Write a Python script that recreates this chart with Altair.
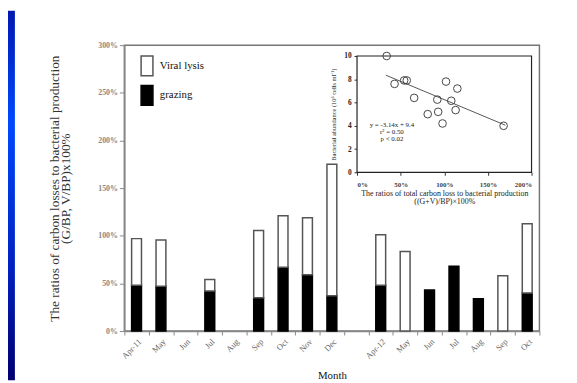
import altair as alt
import pandas as pd

# ---- main bar chart data ----
month_labels = ["Apr-11", "May", "Jun", "Jul", "Aug", "Sep", "Oct", "Nov", "Dec", "",
                "Apr-12", "May", "Jun", "Jul", "Aug", "Sep", "Oct"]
grazing = [0.48, 0.47, None, 0.42, None, 0.35, 0.67, 0.59, 0.37, None,
           0.48, None, 0.43, 0.68, 0.34, None, 0.40]
total = [0.97, 0.955, None, 0.54, None, 1.055, 1.21, 1.19, 1.75, None,
         1.01, 0.835, 0.43, 0.68, 0.34, 0.58, 1.125]

# ---- inset scatter data ----
ratio_pts = [0.34, 0.43, 0.54, 0.57, 0.655, 0.81, 0.92, 0.93, 0.98, 1.02, 1.08, 1.13, 1.15, 1.68]
abund_pts = [10.0, 7.6, 7.9, 7.9, 6.4, 5.0, 6.25, 5.2, 4.2, 7.8, 6.15, 5.35, 7.2, 4.0]
fit_x = [0.33, 1.70]
fit_y = [8.35, 4.05]
ann_text = ["y = -3.14x + 9.4", "r² = 0.50", "p < 0.02"]
ann_x = [0.40, 0.40, 0.40]
ann_y = [4.05, 3.45, 2.85]
inset_x_ticks = [0, 0.5, 1.0, 1.5, 2.0]
inset_y_ticks = [0, 2, 4, 6, 8, 10]

SERIF = "Liberation Serif"

rows = []
for i in range(len(month_labels)):
    g = grazing[i] or 0.0
    t = total[i]
    if grazing[i]:
        rows.append({"idx": i, "type": "grazing", "y0": 0.0, "y1": g})
    if t is not None and t - g > 0.001:
        rows.append({"idx": i, "type": "Viral lysis", "y0": g, "y1": t})
bars_df = pd.DataFrame(rows)

label_expr = "[" + ",".join("'%s'" % s for s in month_labels) + "][datum.value]"

xmain = alt.X("idx:O", scale=alt.Scale(domain=list(range(len(month_labels))), paddingInner=0, paddingOuter=0),
              axis=alt.Axis(title="Month", labelExpr=label_expr, labelAngle=315, tickBand="extent",
                            labelFont=SERIF, labelFontSize=8.5, labelColor="#666", labelPadding=2,
                            tickColor="#888", tickSize=4, domainColor="#888", domainWidth=1.5,
                            titleFont=SERIF, titleFontSize=11, titleFontWeight="normal",
                            titleColor="#111", titlePadding=10))
ymain = alt.Y("y0:Q", scale=alt.Scale(domain=[0, 3]),
              axis=alt.Axis(title=["The ratios of carbon losses to bacterial production", "(G/BP, V/BP)x100%"],
                            values=[0, 0.5, 1, 1.5, 2, 2.5, 3], format=".0%", grid=False,
                            labelFont=SERIF, labelFontSize=8, labelColor="#888", labelFontWeight="bold",
                            tickColor="#888", tickSize=5, domainColor="#888", domainWidth=1.5,
                            titleFont=SERIF, titleFontSize=13.5, titleFontWeight="normal",
                            titleColor="#333", titlePadding=26, titleLineHeight=11))

bars = alt.Chart(bars_df).mark_bar(size=10, strokeWidth=1.5).encode(
    x=xmain,
    y=ymain,
    y2="y1:Q",
    fill=alt.Fill("type:N", scale=alt.Scale(domain=["Viral lysis", "grazing"], range=["white", "black"]),
                  legend=alt.Legend(title=None, orient="none", legendX=12, legendY=10,
                                    symbolType="M-0.6,-1H0.6V1H-0.6Z", symbolSize=400,
                                    symbolStrokeColor="#222", symbolStrokeWidth=1.5,
                                    labelFont=SERIF, labelFontSize=11, labelColor="#111",
                                    rowPadding=4, labelOffset=2)),
    stroke=alt.Stroke("type:N", scale=alt.Scale(domain=["Viral lysis", "grazing"], range=["#555", "black"]),
                      legend=None),
)

strip = alt.Chart(pd.DataFrame({"a": [0]})).mark_rect(
    color=alt.LinearGradient(gradient="linear",
                             stops=[alt.GradientStop(color="#0018b0", offset=0),
                                    alt.GradientStop(color="#0048ff", offset=0.3),
                                    alt.GradientStop(color="#0020c0", offset=0.7),
                                    alt.GradientStop(color="#000070", offset=1)],
                             x1=0, x2=0, y1=0, y2=1)
).encode(x=alt.value(-118), x2=alt.value(-111), y=alt.value(-35), y2=alt.value(340))

main = alt.layer(strip, bars)

# ---- inset ----
xin = alt.X("ratio:Q", scale=alt.Scale(domain=[0, 2], range=[236, 413], nice=False),
            axis=alt.Axis(orient="bottom", offset=-161, values=inset_x_ticks, format=".0%", grid=False,
                          domain=False, tickColor="#333", tickSize=3, labelFont=SERIF, labelFontSize=7,
                          labelColor="#444", labelFontWeight="bold", labelPadding=5,
                          title=["The ratios of total carbon loss to bacterial production", "((G+V)/BP)×100%"],
                          titleFont=SERIF, titleFontSize=8, titleFontWeight="normal", titleColor="#222",
                          titlePadding=2, titleLineHeight=9))
yin = alt.Y("abund:Q", scale=alt.Scale(domain=[0, 10], range=[129, 11], nice=False),
            axis=alt.Axis(orient="left", offset=-236, values=inset_y_ticks, grid=False,
                          domain=False, tickColor="#333", tickSize=3, labelFont=SERIF, labelFontSize=7.5,
                          labelColor="#222", labelFontWeight="bold", labelPadding=3,
                          title="Bacterial abundance (10⁶ cells ml⁻¹)",
                          titleFont=SERIF, titleFontSize=6.5, titleFontWeight="normal", titleColor="#333",
                          titlePadding=7))

pts_df = pd.DataFrame({"ratio": ratio_pts, "abund": abund_pts})
fit_df = pd.DataFrame({"ratio": fit_x, "abund": fit_y})
frame_df = pd.DataFrame({"ratio": [inset_x_ticks[0]], "ratio2": [inset_x_ticks[-1]],
                         "abund": [inset_y_ticks[0]], "abund2": [inset_y_ticks[-1]]})
ann_df = pd.DataFrame({"ratio": ann_x, "abund": ann_y, "t": ann_text})

frame = alt.Chart(frame_df).mark_rect(fill="white", stroke="#222", strokeWidth=1.2).encode(
    x=xin, x2="ratio2:Q", y=yin, y2="abund2:Q")
line = alt.Chart(fit_df).mark_line(color="#555", strokeWidth=1).encode(x=xin, y=yin)
pts = alt.Chart(pts_df).mark_point(shape="circle", filled=False, size=60, color="#444", strokeWidth=1,
                                   opacity=1).encode(x=xin, y=yin)
ann = alt.Chart(ann_df).mark_text(font=SERIF, fontSize=7, color="#222", align="center").encode(
    x=xin, y=yin, text="t:N")

inset = alt.layer(frame, line, pts, ann)

chart = alt.layer(main, inset).resolve_scale(x="independent", y="independent").properties(
    width=421, height=290,
    autosize=alt.AutoSizeParams(type="none"),
    padding={"left": 118, "top": 35, "right": 30, "bottom": 50},
    background="white",
).configure_view(stroke="#777", strokeWidth=1.5)

chart.save("out.html", embed_options={"renderer": "svg", "actions": False})
